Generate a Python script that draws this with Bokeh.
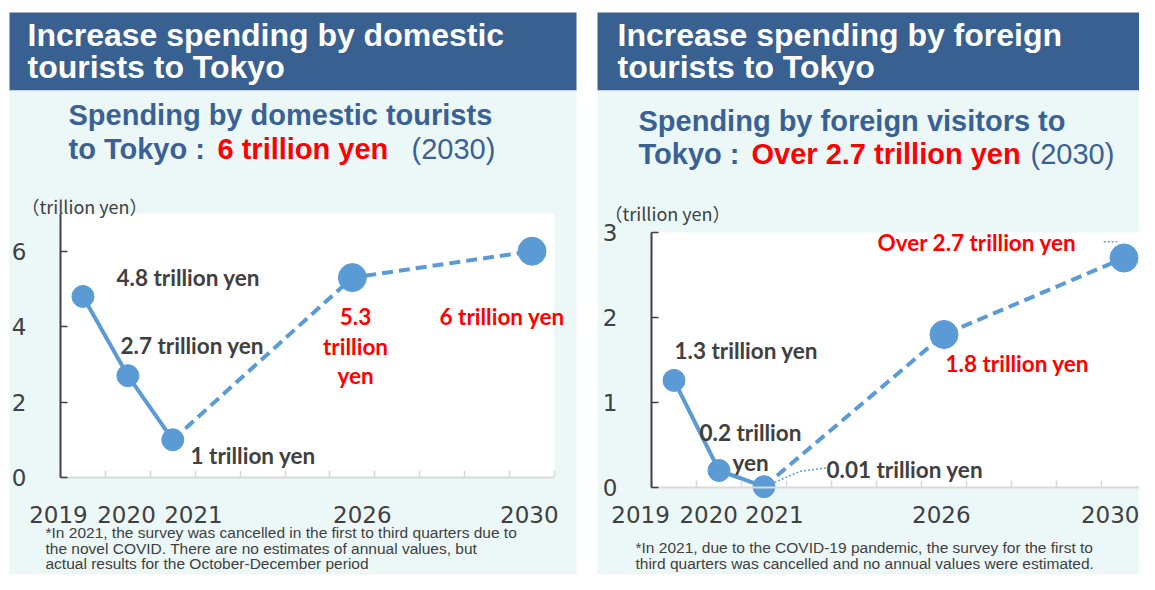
from bokeh.plotting import figure
from bokeh.models import Range1d, FixedTicker, Label, LinearAxis, BoxAnnotation
from bokeh.embed import file_html
from bokeh.resources import INLINE

# ---------------- data ----------------
years = ["2019", "2020", "2021", "2026", "2030"]
slots = [0, 1, 2, 6, 10]          # category slot of each year on the 11-slot category axis
n_slots = 11
domestic = [4.8, 2.7, 1.0, 5.3, 6.0]
foreign = [1.26, 0.2, 0.01, 1.8, 2.7]
domestic_yticks = [0, 2, 4, 6]
foreign_yticks = [0, 1, 2, 3]
domestic_ymax = 7
foreign_ymax = 3
domestic_labels = ["4.8 trillion yen", "2.7 trillion yen", "1 trillion yen",
                   "5.3 trillion yen", "6 trillion yen"]
foreign_labels = ["1.3 trillion yen", "0.2 trillion yen", "0.01 trillion yen",
                  "1.8 trillion yen", "Over 2.7 trillion yen"]

# ---------------- style ----------------
BLUE = "#386090"
SUB = "#3A6196"
CYAN = "#ECF8F8"
LINE = "#5B9BD5"
DARK = "#404040"
RED = "#FF0000"
GRAYAX = "#D9D9D9"
HEAD_FONT = "Liberation Sans"
LBL_FONT = "Lato"
TICK_FONT = "DejaVu Sans"
LBL_SIZE = "22.5px"
marker_sizes = [22, 22, 22, 28, 28]

W, H = 1139, 574          # canvas size
OX, OY = 1, 0             # where the canvas lands in the picture

p = figure(width=W, height=H, x_range=Range1d(0, W), y_range=Range1d(H, 0),
           toolbar_location=None, output_backend="svg", min_border=0,
           x_axis_location=None, y_axis_location=None,
           background_fill_color="white", border_fill_color="white", outline_line_color=None)
p.grid.visible = False


def box(l, r, t, b, color, **kw):
    p.add_layout(BoxAnnotation(left=l, right=r, top=t, bottom=b, fill_color=color, fill_alpha=1,
                               line_color=None, level="underlay", **kw))


def txt(x, y, t, color=DARK, font=LBL_FONT, size=LBL_SIZE, style="bold", align="left"):
    p.add_layout(Label(x=x - OX, y=y - OY, text=t, text_color=color, text_font=font,
                       text_font_size=size, text_font_style=style, text_align=align,
                       text_baseline="middle"))


def chart(name, xl, xr, y0, ytop, ymax, yticks, values, label_pos, label_standoff):
    cl, cr = xl - OX, xr - OX
    sx = (cr - cl) / n_slots
    cb, ct = y0 - OY, ytop - OY
    sy = (cb - ct) / ymax
    xn, yn = "x" + name, "y" + name
    p.extra_x_ranges[xn] = Range1d(-0.5 - cl / sx, -0.5 + (W - cl) / sx)
    p.extra_y_ranges[yn] = Range1d(-(H - cb) / sy, cb / sy)
    kw = dict(x_range_name=xn, y_range_name=yn)
    # white plotting area
    box(-0.5, n_slots - 0.5, ymax, 0, "white", **kw)
    # x axis baseline with category separators
    base = LinearAxis(fixed_location=0, bounds=(-0.5, n_slots - 0.5),
                      ticker=FixedTicker(ticks=[], minor_ticks=[i - 0.5 for i in range(n_slots + 1)]),
                      axis_line_color=GRAYAX, axis_line_width=2, major_tick_line_color=None,
                      minor_tick_line_color=GRAYAX, minor_tick_line_width=1.5,
                      minor_tick_in=7, minor_tick_out=0, major_label_text_font_size="0px", **kw)
    p.add_layout(base, "below")
    # x axis year labels
    lab = LinearAxis(fixed_location=0, ticker=FixedTicker(ticks=label_pos),
                     major_label_overrides={lp: y for lp, y in zip(label_pos, years)},
                     axis_line_color=None, major_tick_line_color=None, minor_tick_line_color=None,
                     major_label_text_font=TICK_FONT, major_label_text_font_size="23px",
                     major_label_text_color=DARK, major_label_standoff=label_standoff, **kw)
    p.add_layout(lab, "below")
    # y axis
    ya = LinearAxis(fixed_location=-0.5, bounds=(0, ymax), ticker=FixedTicker(ticks=yticks),
                    axis_line_color=DARK, axis_line_width=2, major_tick_line_color=DARK,
                    major_tick_line_width=1.5, major_tick_in=7, major_tick_out=0,
                    minor_tick_line_color=None, major_label_text_font=TICK_FONT,
                    major_label_text_font_size="23px", major_label_text_color=DARK,
                    major_label_standoff=34, **kw)
    p.add_layout(ya, "left")
    # series: actual values solid, targets dashed
    p.line(slots[:3], values[:3], line_color=LINE, line_width=4, **kw)
    p.line(slots[2:], values[2:], line_color=LINE, line_width=4, line_dash="11 6", **kw)
    p.scatter(slots, values, size=marker_sizes, color=LINE, **kw)
    return kw


# ---------------- panel backgrounds ----------------
box(10 - OX, 577 - OX, 12 - OY, 90 - OY, BLUE)
box(10 - OX, 577 - OX, 90 - OY, H, CYAN)
box(598 - OX, W, 12 - OY, 90 - OY, BLUE)
box(598 - OX, W, 90 - OY, H, CYAN)

# ---------------- left panel ----------------
txt(28, 34, "Increase spending by domestic", color="white", font=HEAD_FONT, size="32px")
txt(28, 66, "tourists to Tokyo", color="white", font=HEAD_FONT, size="32px")
txt(69, 114, "Spending by domestic tourists", color=SUB, font=HEAD_FONT, size="29px")
txt(69, 148, "to Tokyo : ", color=SUB, font=HEAD_FONT, size="29px")
txt(218, 148, "6 trillion yen", color=RED, font=HEAD_FONT, size="29px")
txt(412, 148, "(2030)", color=SUB, font=HEAD_FONT, size="29px", style="normal")
txt(22, 205, "（trillion yen）", font="Noto Sans CJK JP", size="18px", style="normal")

dl_pos = [-0.545, 0.97, 2.46, 6.22, 9.94]
chart("L", 61, 555, 477, 213, domestic_ymax, domestic_yticks, domestic, dl_pos, 22)
txt(117, 277, domestic_labels[0])
txt(121, 345, domestic_labels[1])
txt(191, 455, domestic_labels[2])
for i, part in enumerate(["5.3", "trillion", "yen"]):
    txt(356, 316 + 29.5 * i, part, color=RED, align="center")
txt(440, 316, domestic_labels[4], color=RED)
for i, t in enumerate(["*In 2021, the survey was cancelled in the first to third quarters due to",
                       "the novel COVID. There are no estimates of annual values, but",
                       "actual results for the October-December period"]):
    txt(46, 532 + 15.5 * i, t, font=HEAD_FONT, size="15.5px", style="normal")

# ---------------- right panel ----------------
txt(618, 34, "Increase spending by foreign", color="white", font=HEAD_FONT, size="32px")
txt(618, 66, "tourists to Tokyo", color="white", font=HEAD_FONT, size="32px")
txt(639, 120, "Spending by foreign visitors to", color=SUB, font=HEAD_FONT, size="29px")
txt(639, 153, "Tokyo : ", color=SUB, font=HEAD_FONT, size="29px")
txt(752, 153, "Over 2.7 trillion yen", color=RED, font=HEAD_FONT, size="29px")
txt(1031, 153, "(2030)", color=SUB, font=HEAD_FONT, size="29px", style="normal")
txt(605, 212, "（trillion yen）", font="Noto Sans CJK JP", size="18px", style="normal")

fl_pos = [-0.744, 0.77, 2.23, 5.94, 9.72]
kwR = chart("R", 652, 1147, 487, 232, foreign_ymax, foreign_yticks, foreign, fl_pos, 12)
txt(675, 350, foreign_labels[0])
txt(700, 432, "0.2 trillion")
txt(751, 462, "yen", align="center")
txt(827, 469, foreign_labels[2])
txt(946, 363, foreign_labels[3], color=RED)
txt(878, 242, foreign_labels[4], color=RED)
# dotted leader lines from labels to points
p.line([slots[2] + 0.15, slots[2] + 0.8, slots[2] + 1.4],
       [foreign[2] + 0.03, foreign[2] + 0.18, foreign[2] + 0.22],
       line_color=LINE, line_width=1.5, line_dash="2 2", **kwR)
p.line([slots[4] - 0.45, slots[4] - 0.15], [foreign[4] + 0.19, foreign[4] + 0.19],
       line_color=LINE, line_width=1.5, line_dash="2 2", **kwR)
for i, t in enumerate(["*In 2021, due to the COVID-19 pandemic, the survey for the first to",
                       "third quarters was cancelled and no annual values were estimated."]):
    txt(636, 547 + 16 * i, t, font=HEAD_FONT, size="15.5px", style="normal")

open("out.html", "w").write(file_html(p, INLINE))
